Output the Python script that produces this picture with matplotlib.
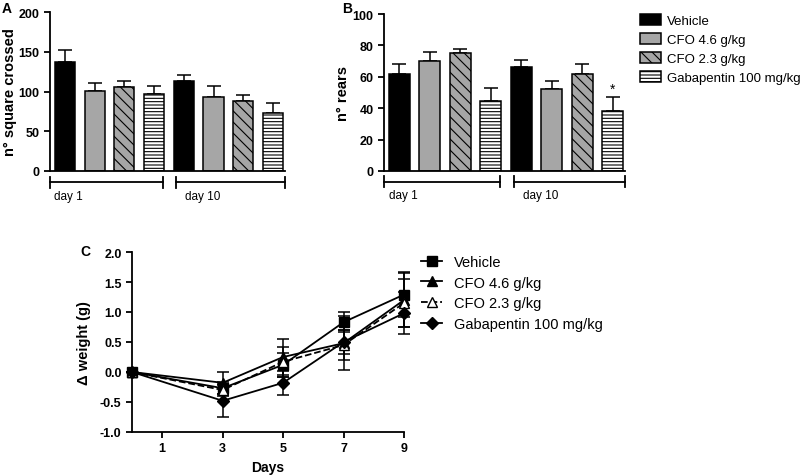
import numpy as np
import matplotlib
matplotlib.use("Agg")
import matplotlib.pyplot as plt
from matplotlib.lines import Line2D

plt.rcParams["font.family"] = ["Liberation Sans", "DejaVu Sans"]
plt.rcParams["hatch.linewidth"] = 0.8

groups = ["Vehicle", "CFO 4.6 g/kg", "CFO 2.3 g/kg", "Gabapentin 100 mg/kg"]
days_bar = ["day 1", "day 10"]

# panel A: n° square crossed (day 1 then day 10)
sq_mean = [137, 101, 105.5, 96.5, 113.5, 93.5, 87.5, 73]
sq_err = [15, 10, 8, 10.5, 7, 13.5, 8, 12]
# panel B: n° rears
rear_mean = [62, 70, 75, 44.5, 66, 52, 62, 38]
rear_err = [6, 6, 3, 8.5, 4.5, 5.5, 6, 9]

# panel C: delta weight
days = [0, 3, 5, 7, 9]
w_vehicle = [0, -0.27, 0.12, 0.83, 1.29]
w_vehicle_err = [0, 0.1, 0.2, 0.17, 0.38]
w_cfo46 = [0, -0.18, 0.25, 0.48, 1.2]
w_cfo46_err = [0, 0.18, 0.3, 0.45, 0.45]
w_cfo23 = [0, -0.3, 0.17, 0.45, 1.15]
w_cfo23_err = [0, 0.1, 0.25, 0.25, 0.4]
w_gaba = [0, -0.48, -0.18, 0.5, 0.98]
w_gaba_err = [0, 0.27, 0.2, 0.2, 0.35]

W, H = 800, 477
fig = plt.figure(figsize=(8, 4.77), dpi=100)


def ax_px(x0, y0, x1, y1):
    return fig.add_axes([x0 / W, 1 - y1 / H, (x1 - x0) / W, (y1 - y0) / H])


faces = ["black", "#a6a6a6", "#a6a6a6", "white"]
hatches = [None, None, "\\\\\\", "-----"]
tick_kw = dict(labelsize=9, width=1.3, length=4)


def bar_panel(ax, mean, err, ymax, ystep, ylabel, lbl_x):
    x = np.arange(len(mean))
    bars = []
    for i in x:
        b = ax.bar(i, mean[i], width=0.68, color=faces[i % 4], edgecolor="black",
                   linewidth=1.1, hatch=hatches[i % 4], zorder=2)
        bars.append(b)
    ax.errorbar(x, mean, yerr=[np.zeros(len(err)), err], fmt="none", ecolor="black",
                elinewidth=1.1, capsize=5, capthick=1.1, zorder=1)
    ax.set_xlim(-0.5, 7.4)
    ax.set_ylim(0, ymax)
    ax.set_yticks(np.arange(0, ymax + 1, ystep))
    ax.set_xticks([])
    for s in ["top", "right"]:
        ax.spines[s].set_visible(False)
    for s in ["left", "bottom"]:
        ax.spines[s].set_linewidth(1.3)
    ax.tick_params(axis="y", **tick_kw)
    for t in ax.get_yticklabels():
        t.set_fontweight("bold")
    ax.set_ylabel(ylabel, fontsize=10.5, fontweight="bold")
    ax.yaxis.set_label_coords(lbl_x, 0.5)
    # day brackets under the axis
    tr = ax.get_xaxis_transform()
    yb = -0.07
    for (a, b_), lab, lx in [((-0.5, 3.3), days_bar[0], -0.35), ((3.75, 7.4), days_bar[1], 4.05)]:
        ax.plot([a, b_], [yb, yb], color="black", lw=1.3, transform=tr, clip_on=False)
        for e in (a, b_):
            ax.plot([e, e], [yb - 0.035, yb + 0.035], color="black", lw=1.3,
                    transform=tr, clip_on=False)
        ax.text(lx, -0.155, lab, transform=tr, fontsize=8.5, ha="left", va="center")
    return bars


axA = ax_px(50, 13, 285, 172)
bar_panel(axA, sq_mean, sq_err, 200, 50, "n° square crossed", -0.14)
axB = ax_px(384, 15, 625, 172)
bars = bar_panel(axB, rear_mean, rear_err, 100, 20, "n° rears", -0.14)
axB.text(7, rear_mean[7] + rear_err[7] + 1, "*", ha="center", va="bottom", fontsize=10)

fig.text(2 / W, 1 - 9 / H, "A", fontsize=10, fontweight="bold", va="center")
fig.text(342 / W, 1 - 9 / H, "B", fontsize=10, fontweight="bold", va="center")
fig.text(80 / W, 1 - 252 / H, "C", fontsize=10, fontweight="bold", va="center")

fig.legend([bars[i][0] for i in range(4)], groups, loc="upper left",
           bbox_to_anchor=(640 / W, 1 - 15 / H), frameon=False, fontsize=9.5,
           handlelength=1.6, handleheight=0.9, handletextpad=0.45,
           labelspacing=0.45, borderpad=0, borderaxespad=0)

# panel C
axC = ax_px(132, 253, 404, 433)
series = [
    (w_vehicle, w_vehicle_err, "s", "black", "-"),
    (w_cfo46, w_cfo46_err, "^", "black", "-"),
    (w_cfo23, w_cfo23_err, "^", "white", "--"),
    (w_gaba, w_gaba_err, "D", "black", "-"),
]
handles = []
for (y, e, m, fc, ls) in series:
    axC.errorbar(days, y, yerr=e, fmt="none", ecolor="black", elinewidth=1.1,
                 capsize=4.5, capthick=1.1, clip_on=False)
    axC.plot(days, y, linestyle=ls, color="black", lw=1.3, marker=m,
             markersize=6.5 if m != "D" else 6, markerfacecolor=fc,
             markeredgecolor="black", markeredgewidth=1, clip_on=False, zorder=3)
    handles.append(Line2D([], [], linestyle=ls, color="black", lw=1.3, marker=m,
                          markersize=6.5 if m != "D" else 6, markerfacecolor=fc,
                          markeredgecolor="black"))
axC.set_xlim(0, 9)
axC.set_ylim(-1.0, 2.0)
axC.set_xticks([1, 3, 5, 7, 9])
axC.set_yticks(np.arange(-1.0, 2.01, 0.5))
axC.set_yticklabels(["%.1f" % v for v in np.arange(-1.0, 2.01, 0.5)])
for s in ["top", "right"]:
    axC.spines[s].set_visible(False)
for s in ["left", "bottom"]:
    axC.spines[s].set_linewidth(1.3)
axC.tick_params(axis="both", **tick_kw)
for t in axC.get_xticklabels() + axC.get_yticklabels():
    t.set_fontweight("bold")
axC.set_xlabel("Days", fontsize=10, fontweight="bold")
axC.set_ylabel("Δ weight (g)", fontsize=10.5, fontweight="bold")
axC.yaxis.set_label_coords(-0.15, 0.5)

fig.legend(handles, groups, loc="upper left", bbox_to_anchor=(421 / W, 1 - 256 / H),
           frameon=False, fontsize=10.5, handlelength=1.45, handletextpad=0.8,
           labelspacing=0.45, borderpad=0, borderaxespad=0)

fig.savefig("out.png", dpi=100)
